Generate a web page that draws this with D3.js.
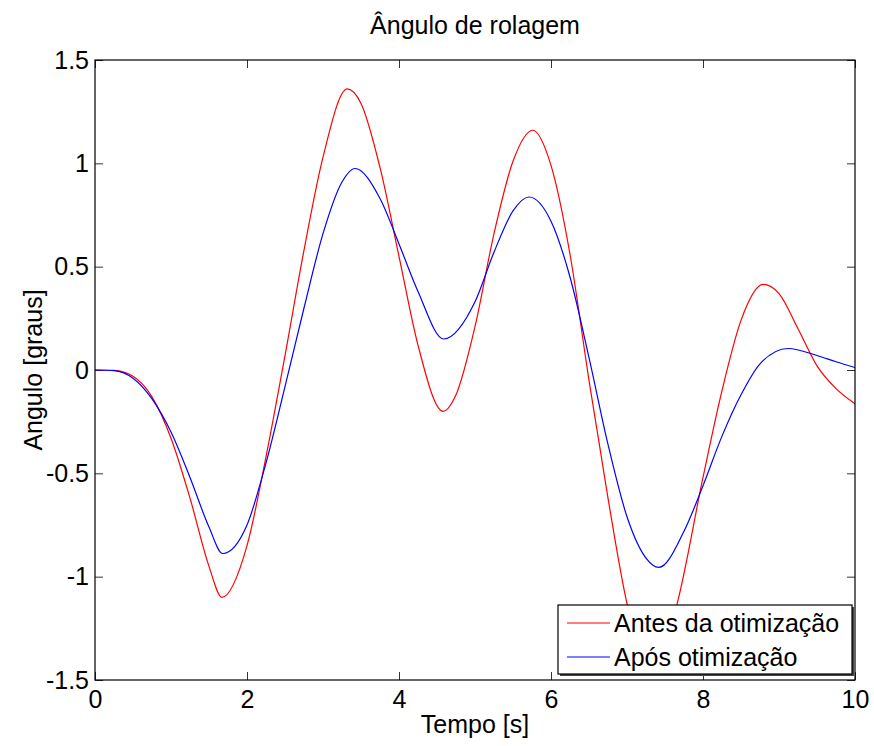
<!DOCTYPE html>
<html>
<head>
<meta charset="utf-8">
<script src="https://cdn.jsdelivr.net/npm/d3@7"></script>
<style>
  body { margin: 0; background: #fff; }
  svg { font-family: "Liberation Sans", Arial, sans-serif; }
</style>
</head>
<body>
<div id="chart"></div>
<script>
// Time samples (s) and roll angle (degrees)
const tBefore = [0, 0.25, 0.5, 0.75, 1.0, 1.25, 1.5, 1.67, 2.0, 2.25, 2.5, 2.75, 3.0, 3.32, 3.5, 3.75, 4.0, 4.25, 4.58, 4.75, 5.0, 5.25, 5.5, 5.76, 6.0, 6.25, 6.5, 6.75, 7.0, 7.33, 7.66, 8.0, 8.25, 8.5, 8.79, 9.0, 9.25, 9.5, 9.75, 10];
const antes = [0, -0.002, -0.03, -0.13, -0.33, -0.62, -0.95, -1.10, -0.85, -0.42, 0.07, 0.58, 1.03, 1.36, 1.29, 0.98, 0.55, 0.12, -0.20, -0.12, 0.21, 0.66, 1.01, 1.16, 0.99, 0.56, -0.05, -0.62, -1.13, -1.47, -1.13, -0.52, -0.10, 0.24, 0.414, 0.37, 0.20, 0.02, -0.09, -0.163];

const tAfter = [0, 0.25, 0.5, 0.75, 1.0, 1.25, 1.5, 1.68, 2.0, 2.25, 2.5, 2.75, 3.0, 3.25, 3.42, 3.75, 4.0, 4.25, 4.59, 5.0, 5.25, 5.5, 5.71, 6.0, 6.25, 6.5, 6.75, 7.0, 7.25, 7.42, 7.75, 8.0, 8.25, 8.5, 8.75, 9.12, 9.5, 9.75, 10];
const apos = [0, -0.003, -0.04, -0.14, -0.30, -0.52, -0.76, -0.888, -0.75, -0.45, -0.08, 0.30, 0.66, 0.91, 0.975, 0.83, 0.61, 0.38, 0.15, 0.33, 0.57, 0.77, 0.837, 0.72, 0.45, 0.06, -0.36, -0.71, -0.91, -0.955, -0.78, -0.56, -0.32, -0.12, 0.03, 0.104, 0.07, 0.04, 0.012];

const xTicks = [0, 2, 4, 6, 8, 10];
const yTicks = [-1.5, -1, -0.5, 0, 0.5, 1, 1.5];
const seriesNames = ["Antes da otimização", "Após otimização"];
const seriesColors = ["#ff0000", "#0000ff"];

const width = 874, height = 746;
const margin = { top: 60, right: 19, bottom: 66, left: 95 };
const w = width - margin.left - margin.right;
const h = height - margin.top - margin.bottom;
const fontSize = "25px";

const svg = d3.select("#chart").append("svg")
  .attr("width", width)
  .attr("height", height);

const g = svg.append("g")
  .attr("transform", `translate(${margin.left},${margin.top})`);

const x = d3.scaleLinear().domain([0, 10]).range([0, w]);
const y = d3.scaleLinear().domain([-1.5, 1.5]).range([h, 0]);

g.append("clipPath").attr("id", "clip")
  .append("rect").attr("width", w).attr("height", h);

// axes (MATLAB style: ticks inside on all four sides)
const tickLen = 8;
const numFmt = d => String(d); // plain hyphen minus like MATLAB
function styleAxis(sel) {
  sel.select(".domain").remove();
  sel.selectAll(".tick line").attr("stroke", "#333");
  sel.selectAll(".tick text").attr("fill", "#000").style("font-size", fontSize);
}
g.append("g").attr("transform", `translate(0,${h})`)
  .call(d3.axisBottom(x).tickValues(xTicks).tickSize(-tickLen).tickPadding(10).tickFormat(numFmt))
  .call(styleAxis);
g.append("g")
  .call(d3.axisTop(x).tickValues(xTicks).tickSize(-tickLen).tickFormat(""))
  .call(styleAxis);
g.append("g")
  .call(d3.axisLeft(y).tickValues(yTicks).tickSize(-tickLen).tickPadding(6).tickFormat(numFmt))
  .call(styleAxis);
g.append("g").attr("transform", `translate(${w},0)`)
  .call(d3.axisRight(y).tickValues(yTicks).tickSize(-tickLen).tickFormat(""))
  .call(styleAxis);

// lines
const line = d3.line()
  .x(d => x(d[0]))
  .y(d => y(d[1]))
  .curve(d3.curveMonotoneX);

const plot = g.append("g").attr("clip-path", "url(#clip)");
plot.append("path")
  .datum(d3.zip(tBefore, antes))
  .attr("fill", "none")
  .attr("stroke", seriesColors[0])
  .attr("stroke-width", 1.2)
  .attr("d", line);
plot.append("path")
  .datum(d3.zip(tAfter, apos))
  .attr("fill", "none")
  .attr("stroke", seriesColors[1])
  .attr("stroke-width", 1.2)
  .attr("d", line);

// box
g.append("rect")
  .attr("width", w).attr("height", h)
  .attr("fill", "none").attr("stroke", "#000").attr("stroke-width", 1.2);

// legend
const leg = g.append("g").attr("transform", `translate(${558 - margin.left},${605 - margin.top})`);
leg.append("rect")
  .attr("x", 2).attr("y", 2)
  .attr("width", 294).attr("height", 69)
  .attr("fill", "#444");
leg.append("rect")
  .attr("width", 294).attr("height", 69)
  .attr("fill", "#fff").attr("stroke", "#000").attr("stroke-width", 1.2);
seriesNames.forEach((name, i) => {
  const yy = 18 + i * 34;
  leg.append("line")
    .attr("x1", 9).attr("x2", 52)
    .attr("y1", yy).attr("y2", yy)
    .attr("stroke", seriesColors[i]).attr("stroke-width", 1.2);
  leg.append("text")
    .attr("x", 56).attr("y", yy)
    .attr("dy", "0.35em")
    .style("font-size", fontSize)
    .text(name);
});

// labels
svg.append("text")
  .attr("x", margin.left + w / 2).attr("y", 34)
  .attr("text-anchor", "middle")
  .style("font-size", fontSize)
  .text("Ângulo de rolagem");

svg.append("text")
  .attr("x", margin.left + w / 2).attr("y", 733)
  .attr("text-anchor", "middle")
  .style("font-size", fontSize)
  .text("Tempo [s]");

svg.append("text")
  .attr("transform", `translate(42,${margin.top + h / 2}) rotate(-90)`)
  .attr("text-anchor", "middle")
  .style("font-size", fontSize)
  .text("Angulo [graus]");
</script>
</body>
</html>
